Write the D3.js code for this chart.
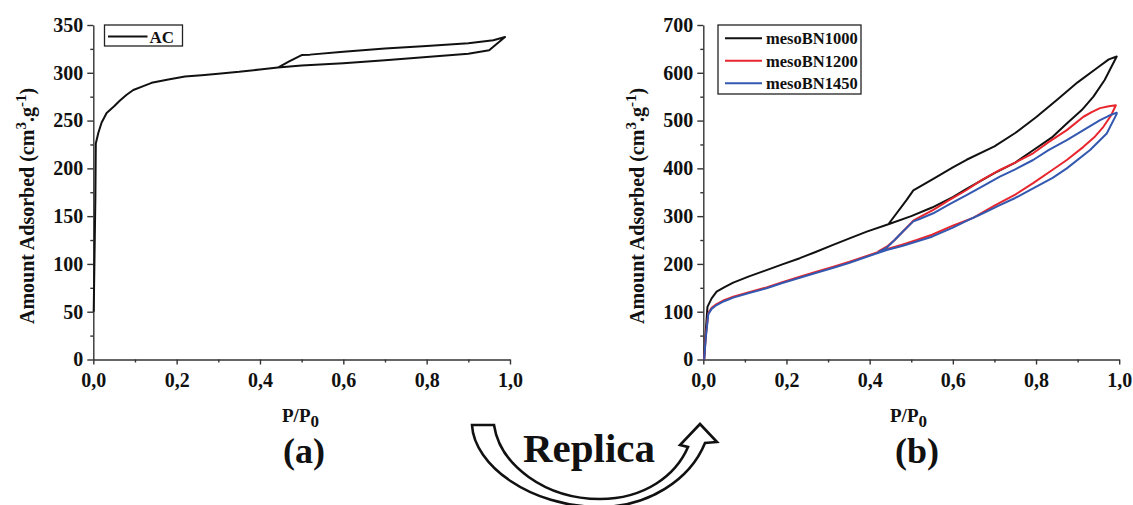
<!DOCTYPE html>
<html><head><meta charset="utf-8">
<script src="https://cdn.jsdelivr.net/npm/d3@7"></script>
<style>
html,body{margin:0;padding:0;background:#fff;}
svg{display:block;}
text{font-family:"Liberation Serif","Times New Roman",serif;font-weight:bold;fill:#111;}
.axis path,.axis line{stroke:#333;stroke-width:1.4;}
</style></head><body>
<svg id="chart" width="1133" height="505"></svg>
<script>
// ---------- data ----------
const xTicks = [0, 0.2, 0.4, 0.6, 0.8, 1.0];
const xMinorTicks = [0.1, 0.3, 0.5, 0.7, 0.9];
const yTicksA = [0, 50, 100, 150, 200, 250, 300, 350];
const yMinorA = [25, 75, 125, 175, 225, 275, 325];
const yTicksB = [0, 100, 200, 300, 400, 500, 600, 700];
const yMinorB = [50, 150, 250, 350, 450, 550, 650];

const seriesA = ["AC"];
const acAds = [[0.001,50],[0.003,110],[0.005,170],[0.006,226],[0.012,237],[0.02,248],[0.032,258],[0.05,265],[0.064,271],[0.08,277],[0.096,282],[0.12,286],[0.14,289.5],[0.18,293],[0.22,296],[0.26,297.5],[0.30,299],[0.35,301],[0.40,303.5],[0.443,305.5],[0.5,307.5],[0.6,310],[0.7,313],[0.8,316.5],[0.9,320],[0.95,323.5],[0.988,337.5]];
const acDes = [[0.988,337.5],[0.96,334],[0.94,333],[0.9,331],[0.8,328],[0.7,325.5],[0.6,322],[0.52,319],[0.5,318.5],[0.47,312],[0.443,305.5]];

const seriesB = ["mesoBN1000", "mesoBN1200", "mesoBN1450"];
const colorsB = ["#111111", "#e8262e", "#3358b0"];
const bn1000Ads = [[0.002,0],[0.006,60],[0.01,110],[0.02,128],[0.032,142],[0.05,151],[0.072,161],[0.11,174],[0.152,187],[0.19,199],[0.232,212],[0.27,225],[0.312,240],[0.35,253],[0.393,267.5],[0.445,283],[0.5,300],[0.55,318],[0.6,340],[0.633,357],[0.7,390],[0.75,412],[0.793,438],[0.84,466],[0.874,494],[0.91,522],[0.938,550],[0.965,585],[0.994,634]];
const bn1000Des = [[0.994,634],[0.975,628],[0.95,612],[0.9,580],[0.85,543],[0.8,507],[0.75,474],[0.7,446],[0.633,418],[0.6,402],[0.553,378],[0.505,354],[0.489,334],[0.445,283]];
const bn1200Ads = [[0.002,0],[0.006,50],[0.012,97],[0.02,108],[0.032,116],[0.05,124],[0.072,131.5],[0.11,141],[0.152,151],[0.19,162],[0.232,173],[0.27,183],[0.313,194],[0.35,204],[0.393,216.6],[0.441,231],[0.48,241],[0.513,250],[0.55,261],[0.6,280],[0.65,297],[0.7,322],[0.75,345],[0.793,369],[0.84,397],[0.874,417.5],[0.914,445],[0.94,465],[0.962,487],[0.98,510],[0.992,532]];
const bn1200Des = [[0.992,532],[0.975,530],[0.954,526],[0.935,518],[0.914,508],[0.874,480],[0.83,455],[0.793,431.5],[0.75,412],[0.713,396.6],[0.67,376],[0.633,354.7],[0.59,333],[0.553,313],[0.52,298],[0.505,290.5],[0.48,268],[0.46,250],[0.441,236],[0.42,226]];
const bn1450Ads = [[0.002,0],[0.006,45],[0.012,95],[0.02,106],[0.032,114],[0.05,122],[0.072,129.5],[0.11,139],[0.152,149],[0.19,160],[0.232,171],[0.27,181],[0.313,192],[0.35,202],[0.393,215],[0.441,229],[0.48,238],[0.513,247],[0.55,257],[0.6,276],[0.633,290],[0.67,305],[0.713,323],[0.75,338],[0.793,358],[0.84,380],[0.874,400],[0.93,438.5],[0.97,473],[0.994,514]];
const bn1450Des = [[0.994,516.5],[0.975,510],[0.954,501],[0.914,480],[0.874,459],[0.83,438],[0.793,417.5],[0.75,398],[0.713,382.6],[0.67,362],[0.633,344],[0.59,324],[0.553,306],[0.52,294],[0.505,289],[0.48,268],[0.46,250],[0.441,234],[0.42,224]];

const panelLabels = ["(a)", "(b)"];
const xTitle = "P/P";
const arrowLabel = "Replica";

// ---------- drawing ----------
const svg = d3.select("#chart");
svg.append("rect").attr("width",1133).attr("height",505).attr("fill","#fff");
const fmt = d => d3.format(".1f")(d).replace(".", ",");

function panel(cfg){
  const {x, y, yMajor, yMinor, series, legend} = cfg;
  const g = svg.append("g");
  const y0 = y.range()[0], x0 = x.range()[0];
  // x axis
  g.append("g").attr("class","axis").attr("transform",`translate(0,${y0})`)
    .call(d3.axisBottom(x).tickValues(xTicks).tickSize(5).tickSizeOuter(0).tickPadding(8).tickFormat(fmt))
    .call(a=>a.selectAll("text").attr("font-size",20).attr("fill","#111"));
  g.append("g").attr("class","axis").attr("transform",`translate(0,${y0})`)
    .call(d3.axisBottom(x).tickValues(xMinorTicks).tickSize(3).tickFormat(""))
    .call(a=>a.select(".domain").remove());
  // y axis
  g.append("g").attr("class","axis").attr("transform",`translate(${x0},0)`)
    .call(d3.axisLeft(y).tickValues(yMajor).tickSize(6).tickSizeOuter(0).tickPadding(4))
    .call(a=>a.selectAll("text").attr("font-size",20).attr("fill","#111"));
  g.append("g").attr("class","axis").attr("transform",`translate(${x0},0)`)
    .call(d3.axisLeft(y).tickValues(yMinor).tickSize(3).tickFormat(""))
    .call(a=>a.select(".domain").remove());
  // y title
  const yt = g.append("text").attr("transform",`translate(${x0-59},206) rotate(-90)`)
    .attr("text-anchor","middle").attr("font-size",20);
  yt.append("tspan").text("Amount Adsorbed (cm");
  yt.append("tspan").attr("font-size",15).attr("dy",-8).text("3");
  yt.append("tspan").attr("dy",8).text(".g");
  yt.append("tspan").attr("font-size",15).attr("dy",-8).text("-1");
  yt.append("tspan").attr("dy",8).text(")");
  // x title
  const xt = g.append("text").attr("x", cfg.xTitleX).attr("y",422).attr("font-size",19);
  xt.append("tspan").text(xTitle);
  xt.append("tspan").attr("dy",5).attr("font-size",17).text("0");
  // panel label
  g.append("text").attr("x",cfg.labelX).attr("y",463).attr("text-anchor","middle")
    .attr("font-size",36).text(cfg.label);
  // lines
  const line = d3.line().x(d=>x(d[0])).y(d=>y(d[1]));
  series.forEach(s=>{
    g.append("path").attr("d", line(s.ads.concat(s.des))).attr("fill","none")
      .attr("stroke", s.color).attr("stroke-width", 2).attr("stroke-linejoin","round");
  });
  // legend
  const L = legend;
  g.append("rect").attr("x",L.x).attr("y",L.y).attr("width",L.w).attr("height",L.h)
    .attr("fill","#fff").attr("stroke","#222").attr("stroke-width",1.3);
  series.forEach((s,i)=>{
    const ly = L.y + L.row0 + i*L.step;
    g.append("line").attr("x1",L.x+L.lx1).attr("x2",L.x+L.lx2).attr("y1",ly).attr("y2",ly)
      .attr("stroke",s.color).attr("stroke-width",2);
    g.append("text").attr("x",L.x+L.tx).attr("y",ly+6).attr("font-size",L.fs).text(s.name);
  });
}

panel({
  x: d3.scaleLinear().domain([0,1]).range([93.3,510]),
  y: d3.scaleLinear().domain([0,350]).range([359.5,25]),
  yMajor: yTicksA, yMinor: yMinorA,
  series: [{name: seriesA[0], color: "#111", ads: acAds, des: acDes}],
  legend: {x:104.5, y:25, w:78, h:21, row0:11.5, step:0, lx1:3.5, lx2:43, tx:45, fs:17},
  xTitleX: 282, labelX: 304, label: panelLabels[0]
});
panel({
  x: d3.scaleLinear().domain([0,1]).range([703.3,1119.2]),
  y: d3.scaleLinear().domain([0,700]).range([359.5,25]),
  yMajor: yTicksB, yMinor: yMinorB,
  series: [
    {name: seriesB[0], color: colorsB[0], ads: bn1000Ads, des: bn1000Des},
    {name: seriesB[1], color: colorsB[1], ads: bn1200Ads, des: bn1200Des},
    {name: seriesB[2], color: colorsB[2], ads: bn1450Ads, des: bn1450Des}
  ],
  legend: {x:718, y:25, w:143, h:69, row0:13.3, step:22.5, lx1:7, lx2:44, tx:48, fs:16.5},
  xTitleX: 890, labelX: 917, label: panelLabels[1]
});

// curved "Replica" arrow
svg.append("path")
  .attr("d","M472,425 C474,465 530,507 600,507 C648,507 690,480 705,443 L717,442 L700,424 L680,445 L688,447 C676,475 645,499 600,499 C545,499 500,465 494,425 Z")
  .attr("fill","#fff").attr("stroke","#111").attr("stroke-width",2.6).attr("stroke-linejoin","miter");
svg.append("text").attr("x",589).attr("y",462).attr("text-anchor","middle")
  .attr("font-size",41).text(arrowLabel);
</script>
</body></html>
